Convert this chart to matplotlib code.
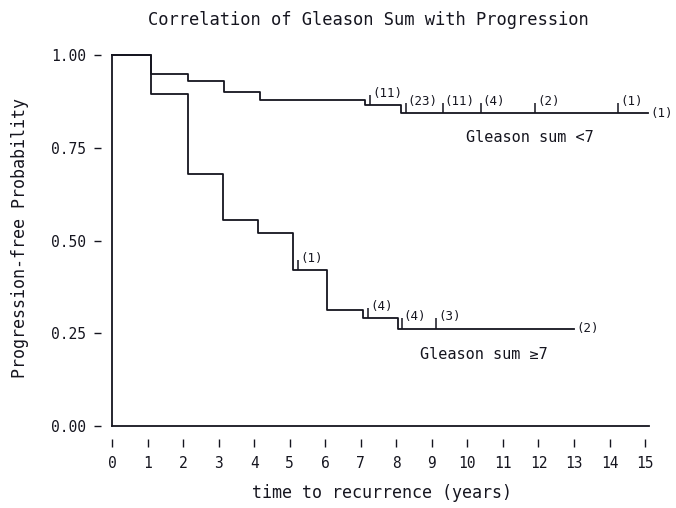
import numpy as np
import matplotlib
matplotlib.use("Agg")
import matplotlib.pyplot as plt

plt.rcParams['font.family'] = ['DejaVu Sans Mono', 'DejaVu Sans']

# Kaplan-Meier style steps (time in years, progression-free probability)
low_times = [0, 1.1, 2.15, 3.15, 4.15, 7.12, 8.12, 15.08]
low_surv = [1.0, 0.95, 0.93, 0.90, 0.88, 0.865, 0.843, 0.843]
high_times = [0, 1.1, 2.15, 3.12, 4.12, 5.1, 6.05, 7.07, 8.05, 13.0]
high_surv = [1.0, 0.895, 0.68, 0.556, 0.52, 0.42, 0.312, 0.29, 0.262, 0.262]

# censoring marks with numbers at risk
low_cens = [7.27, 8.26, 9.3, 10.37, 11.9, 14.25]
low_cens_lab = ["(11)", "(23)", "(11)", "(4)", "(2)", "(1)"]
low_end_lab = "(1)"
high_cens = [5.24, 7.2, 8.15, 9.13]
high_cens_lab = ["(1)", "(4)", "(4)", "(3)"]
high_end_lab = "(2)"

x_ticks = list(range(0, 16))
y_ticks = [0.0, 0.25, 0.5, 0.75, 1.0]

ink = '#15151f'


def surv_at(times, surv, t):
    idx = np.searchsorted(times, t, side='right') - 1
    return surv[idx]


fig = plt.figure(figsize=(6.76, 5.08), dpi=100)
ax = fig.add_axes([0.15, 0.136, 0.8305, 0.792])
ax.set_xlim(-0.3, 15.5)
ax.set_ylim(-0.035, 1.05)

# frame drawn as part of the plot
ax.plot([0, 0], [0, 1.0], color=ink, lw=1.3)
ax.plot([0, 15.1], [0, 0], color=ink, lw=1.3)

for times, surv, cens, labs, end_lab in [
        (low_times, low_surv, low_cens, low_cens_lab, low_end_lab),
        (high_times, high_surv, high_cens, high_cens_lab, high_end_lab)]:
    ax.step(times, surv, where='post', color=ink, lw=1.3)
    for t, lab in zip(cens, labs):
        s = surv_at(times, surv, t)
        ax.vlines(t, s, s + 0.028, color=ink, lw=1.1)
        ax.annotate(lab, (t, s), xytext=(1.5, 4), textcoords='offset points',
                    fontsize=9, ha='left', va='bottom', color=ink)
    ax.annotate(end_lab, (times[-1], surv[-1]), xytext=(2, 0),
                textcoords='offset points', fontsize=9, ha='left',
                va='center', color=ink, annotation_clip=False)

ax.text(9.95, 0.778, "Gleason sum <7", fontsize=11, va='center', color=ink)
ax.text(8.68, 0.193, "Gleason sum \u22657", fontsize=11, va='center', color=ink)

for sp in ax.spines.values():
    sp.set_visible(False)

ax.set_xticks(x_ticks)
ax.set_xticklabels([str(v) for v in x_ticks])
ax.set_yticks(y_ticks)
ax.set_yticklabels([f"{v:.2f}" for v in y_ticks])
ax.tick_params(axis='x', direction='out', length=6, width=1.0, pad=6,
               labelsize=10.5, colors=ink)
ax.tick_params(axis='y', direction='out', length=5, width=1.0, pad=6,
               labelsize=10.5, colors=ink)

ax.set_xlabel("time to recurrence (years)", fontsize=12, labelpad=10, color=ink)
ax.set_ylabel("Progression-free Probability", fontsize=12, labelpad=16, color=ink)
fig.text(0.545, 0.96, "Correlation of Gleason Sum with Progression",
         fontsize=12.3, ha='center', va='center', color=ink)

fig.savefig("out.png", dpi=100)
